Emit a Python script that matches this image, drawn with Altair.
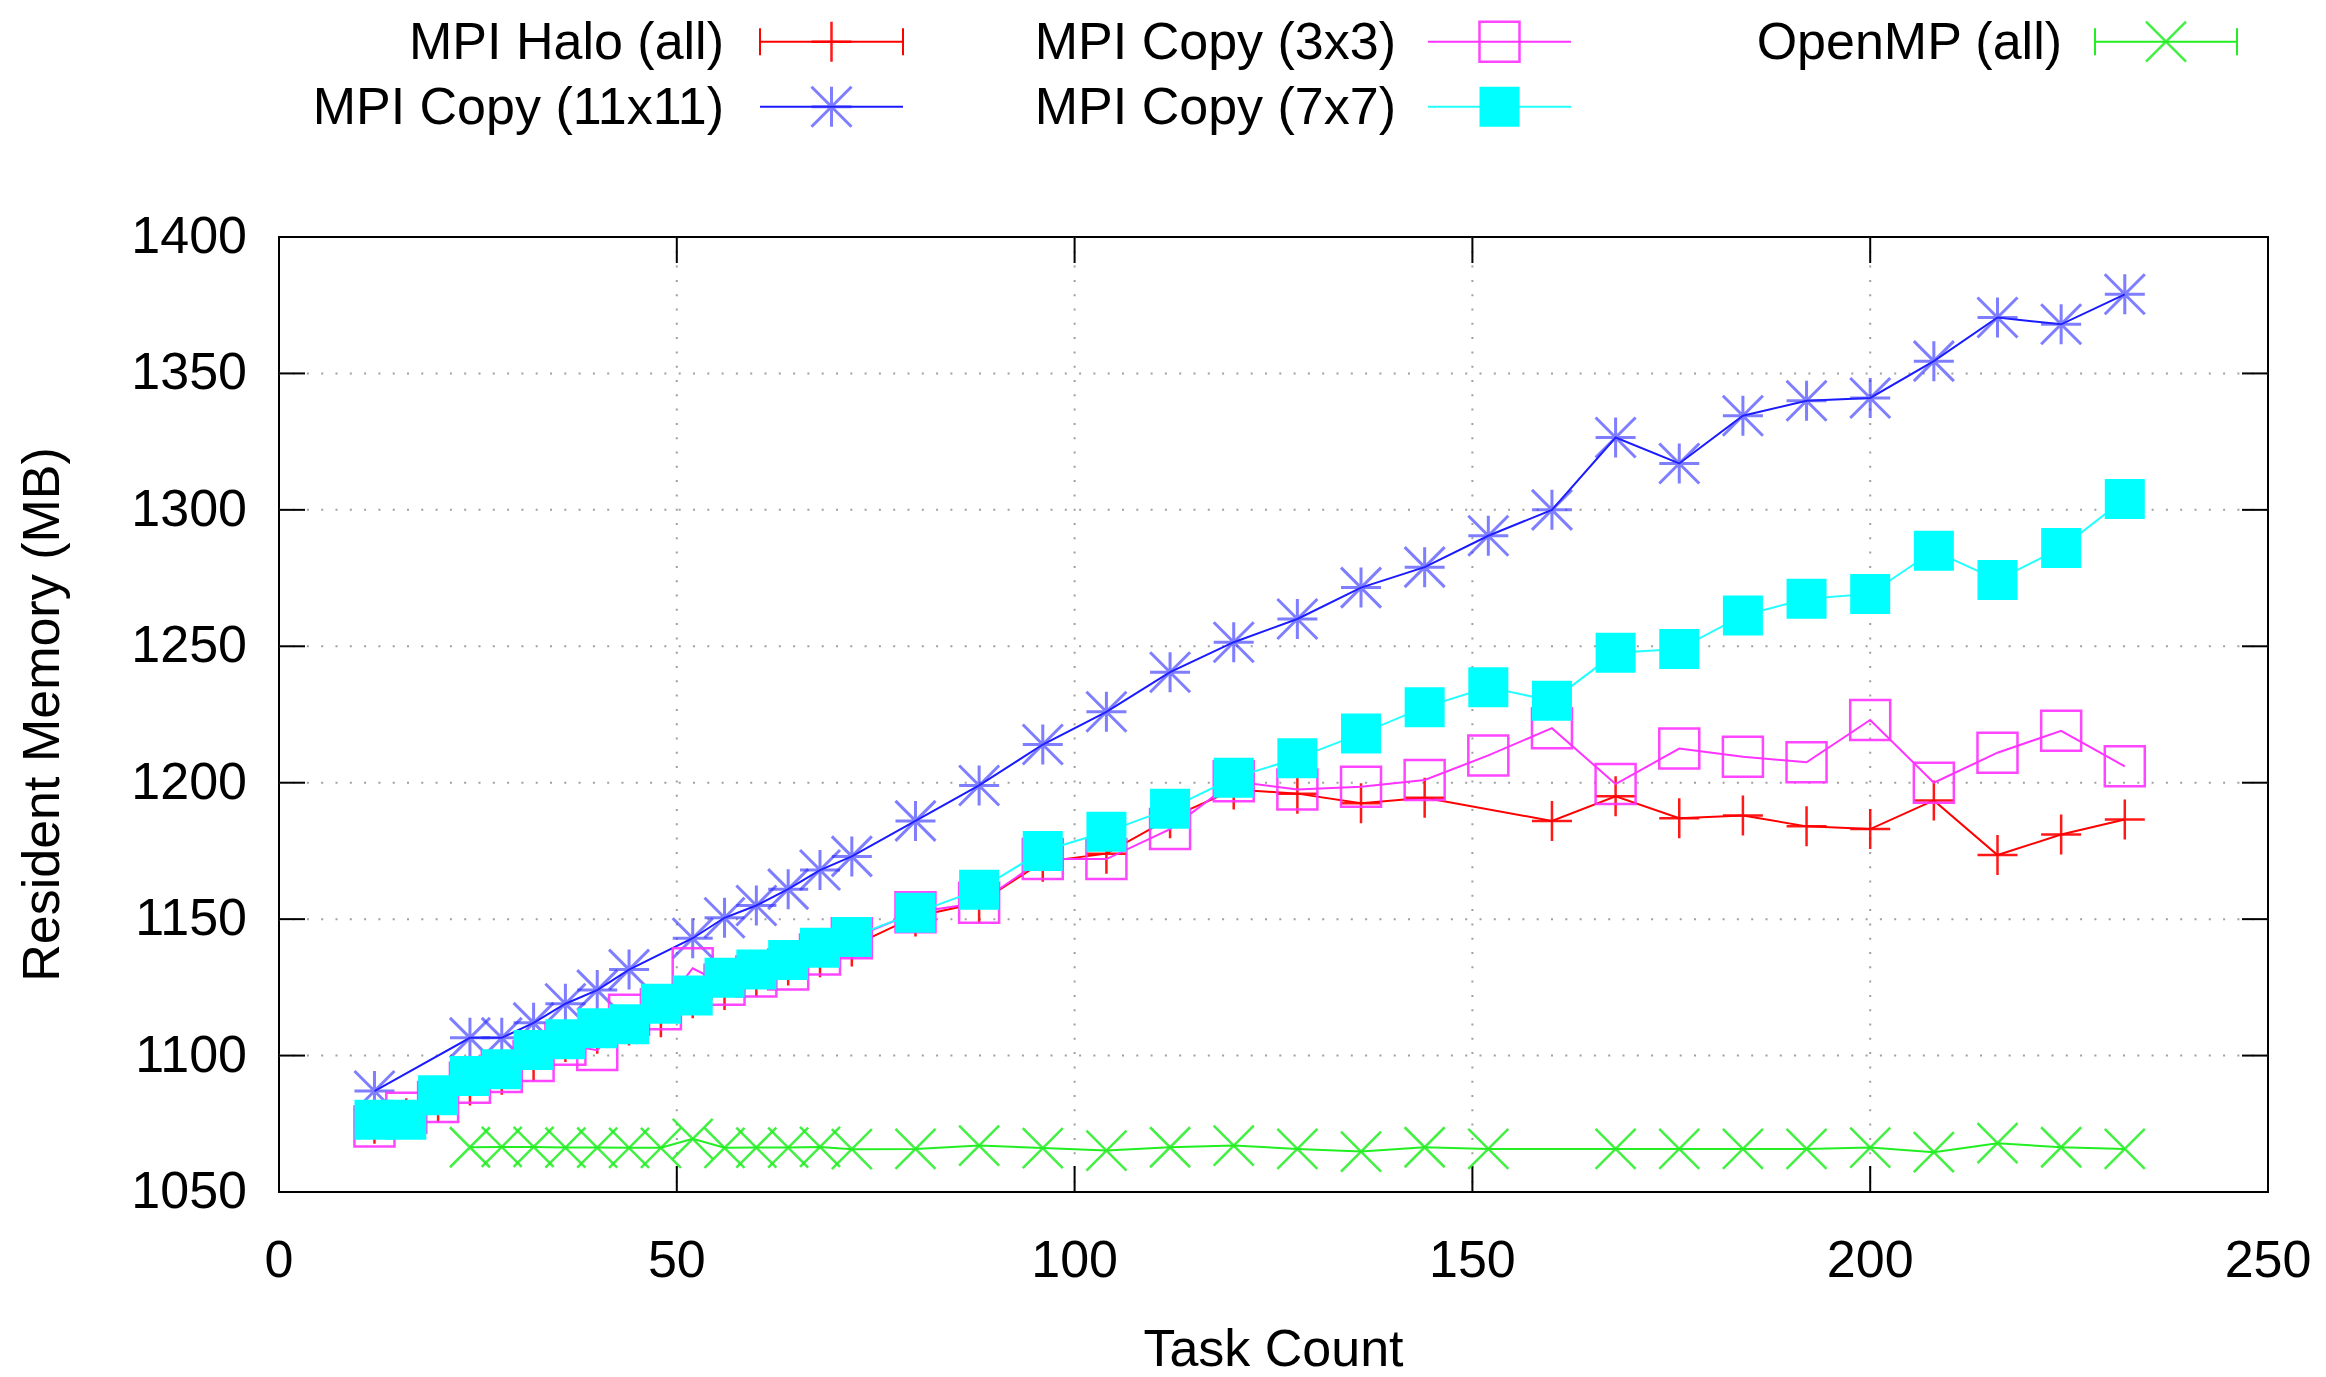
import altair as alt
import pandas as pd

# ---------------- data ----------------
series_names = ["MPI Halo (all)", "MPI Copy (11x11)", "MPI Copy (3x3)", "MPI Copy (7x7)", "OpenMP (all)"]

halo_x = [12, 16, 20, 24, 28, 32, 36, 40, 44, 48, 52, 56, 60, 64, 68, 72, 80, 88, 96, 104, 112,
          120, 128, 136, 144, 160, 168, 176, 184, 192, 200, 208, 216, 224, 232]
halo_y = [1075, 1077, 1083, 1089, 1093, 1098, 1105, 1108, 1111, 1114, 1121, 1124, 1129, 1133, 1136,
          1140, 1151, 1156, 1171, 1174, 1187, 1197.5, 1196, 1192.5, 1194.5, 1186, 1195, 1187, 1188,
          1184, 1183, 1193.5, 1173.5, 1181, 1186.5]

c11_x = [12, 24, 28, 32, 36, 40, 44, 52, 56, 60, 64, 68, 72, 80, 88, 96, 104, 112, 120, 128, 136,
         144, 152, 160, 168, 176, 184, 192, 200, 208, 216, 224, 232]
c11_y = [1087, 1106.5, 1106.5, 1112, 1119, 1124, 1131.5, 1143, 1150.5, 1155, 1161, 1168, 1173,
         1186, 1199, 1214, 1226, 1240.5, 1251.5, 1260, 1271.5, 1279, 1290.5, 1300, 1326.5, 1317,
         1334.5, 1340, 1341, 1354.5, 1370.5, 1368, 1379]

c3_x = [12, 16, 20, 24, 28, 32, 36, 40, 44, 48, 52, 56, 60, 64, 68, 72, 80, 88, 96, 104, 112, 120,
        128, 136, 144, 152, 160, 168, 176, 184, 192, 200, 208, 216, 224, 232]
c3_y = [1074, 1079, 1083, 1090, 1094, 1098, 1104, 1102, 1115, 1117, 1132, 1126, 1129, 1131.5, 1137,
        1143, 1152.5, 1156, 1172, 1172, 1183, 1200.5, 1197.5, 1198.5, 1201, 1210, 1220, 1199.5,
        1212.5, 1209.5, 1207.5, 1223, 1200, 1211, 1219, 1206]

c7_x = [12, 16, 20, 24, 28, 32, 36, 40, 44, 48, 52, 56, 60, 64, 68, 72, 80, 88, 96, 104, 112, 120,
        128, 136, 144, 152, 160, 168, 176, 184, 192, 200, 208, 216, 224, 232]
c7_y = [1076.5, 1076.5, 1085.5, 1092.5, 1095, 1102, 1106, 1110, 1111.5, 1119, 1122, 1128.5, 1131.5,
        1135, 1139.5, 1143.5, 1152.3, 1160.8, 1175, 1182, 1190.5, 1201.8, 1209, 1218, 1227.7, 1235,
        1230, 1247.6, 1249, 1261.3, 1267.4, 1269.2, 1285, 1274.3, 1286, 1304]

omp_x = [24, 28, 32, 36, 40, 44, 48, 52, 56, 60, 64, 68, 72, 80, 88, 96, 104, 112, 120, 128, 136,
         144, 152, 168, 176, 184, 192, 200, 208, 216, 224, 232]
omp_y = [1066.4, 1066.5, 1066.5, 1066.3, 1066.3, 1066.2, 1066.2, 1069.5, 1066.2, 1066.3, 1066.3,
         1066.5, 1065.7, 1065.8, 1067, 1066.1, 1065.2, 1066.4, 1067, 1065.8, 1064.8, 1066.4, 1065.8,
         1065.8, 1065.8, 1065.8, 1065.8, 1066.3, 1064.6, 1067.9, 1066.4, 1065.8]

x_ticks = [0, 50, 100, 150, 200, 250]
y_ticks = [1050, 1100, 1150, 1200, 1250, 1300, 1350, 1400]
x_title = "Task Count"
y_title = "Resident Memory (MB)"

series_x = [halo_x, c11_x, c3_x, c7_x, omp_x]
series_y = [halo_y, c11_y, c3_y, c7_y, omp_y]

rows = []
for name, xs, ys in zip(series_names, series_x, series_y):
    for xv, yv in zip(xs, ys):
        rows.append({"series": name, "tasks": xv, "mem": yv})
df = pd.DataFrame(rows)

# ---------------- styling ----------------
W, H = 1989, 955
FONT = "Liberation Sans"
FS = 52

PLUS = "M-1,0L1,0M0,-1L0,1"
XMARK = "M-1,-1L1,1M-1,1L1,-1"
STAR = "M-1,0L1,0M0,-1L0,1M-1,-1L1,1M-1,1L1,-1"

styles = {
    "MPI Halo (all)":   dict(line="#ff0000", mark="#ff0000", shape=PLUS, filled=False, op=0.9, sw=2.5, ends=True),
    "MPI Copy (11x11)": dict(line="#1a1aff", mark="#2a2aff", shape=STAR, filled=False, op=0.6, sw=3, ends=False),
    "MPI Copy (3x3)":   dict(line="#ff33ff", mark="#ff33ff", shape="square", filled=False, op=0.9, sw=2.5, ends=False),
    "MPI Copy (7x7)":   dict(line="#22ffff", mark="#00ffff", shape="square", filled=True, op=1.0, sw=0, ends=False),
    "OpenMP (all)":     dict(line="#22ee22", mark="#22ee22", shape=XMARK, filled=False, op=0.85, sw=2.5, ends=True),
}

xscale = alt.Scale(domain=[0, 250], nice=False, zero=False)
yscale = alt.Scale(domain=[1050, 1400], nice=False, zero=False)

layers = []

# grid (dotted), interior ticks only
xg = pd.DataFrame({"v": x_ticks[1:-1]})
yg = pd.DataFrame({"v": y_ticks[1:-1]})
grid_style = dict(color="#a0a0a0", strokeWidth=2, strokeDash=[2, 12.3])
layers.append(alt.Chart(xg).mark_rule(**grid_style).encode(x=alt.X("v:Q", scale=xscale, axis=None)))
layers.append(alt.Chart(yg).mark_rule(**grid_style).encode(y=alt.Y("v:Q", scale=yscale, axis=None)))

# inward mirror ticks on all four sides
TL = 26
tick_style = dict(color="black", strokeWidth=2)
layers.append(alt.Chart(yg).mark_rule(**tick_style).encode(
    y=alt.Y("v:Q", scale=yscale, axis=None), x=alt.value(0), x2=alt.value(TL)))
layers.append(alt.Chart(yg).mark_rule(**tick_style).encode(
    y=alt.Y("v:Q", scale=yscale, axis=None), x=alt.value(W - TL), x2=alt.value(W)))
layers.append(alt.Chart(xg).mark_rule(**tick_style).encode(
    x=alt.X("v:Q", scale=xscale, axis=None), y=alt.value(H - TL), y2=alt.value(H)))
layers.append(alt.Chart(xg).mark_rule(**tick_style).encode(
    x=alt.X("v:Q", scale=xscale, axis=None), y=alt.value(0), y2=alt.value(TL)))

# tick labels (placed through the scales)
xl = pd.DataFrame({"v": x_ticks})
yl_df = pd.DataFrame({"v": y_ticks})
layers.append(alt.Chart(xl).mark_text(font=FONT, fontSize=FS, align="center", baseline="alphabetic",
                                      color="black").encode(
    x=alt.X("v:Q", scale=xscale, axis=None), y=alt.value(H + 85), text=alt.Text("v:Q", format="d")))
layers.append(alt.Chart(yl_df).mark_text(font=FONT, fontSize=FS, align="right", baseline="middle",
                                         color="black").encode(
    y=alt.Y("v:Q", scale=yscale, axis=None), x=alt.value(-32), text=alt.Text("v:Q", format="d")))

# axis titles
titles_df = pd.DataFrame({"t": [x_title, y_title]})
layers.append(alt.Chart(titles_df).transform_filter(alt.datum.t == x_title).mark_text(
    font=FONT, fontSize=FS, align="center", baseline="alphabetic", color="black").encode(
    x=alt.value(W / 2), y=alt.value(H + 174), text="t:N"))
layers.append(alt.Chart(titles_df).transform_filter(alt.datum.t == y_title).mark_text(
    font=FONT, fontSize=FS, align="center", baseline="alphabetic", angle=270, color="black").encode(
    x=alt.value(-220), y=alt.value(H / 2), text="t:N"))

# series
for name in series_names:
    s = styles[name]
    base = alt.Chart(df).transform_filter(alt.datum.series == name)
    enc = dict(x=alt.X("tasks:Q", scale=xscale, axis=None), y=alt.Y("mem:Q", scale=yscale, axis=None))
    layers.append(base.mark_line(color=s["line"], strokeWidth=2).encode(**enc))
    if s["filled"]:
        pt = base.mark_point(shape=s["shape"], size=1600, filled=True, color=s["mark"], opacity=s["op"])
    else:
        pt = base.mark_point(shape=s["shape"], size=1600, filled=False, color=s["mark"],
                             opacity=s["op"], strokeWidth=s["sw"])
    layers.append(pt.encode(**enc))

# manual gnuplot-style key above the plot (label left of sample)
legend_df = pd.DataFrame({"series": series_names})
col_text_right = [445, 1117, 1783]
col_line = [(481, 624), (1149, 1292), (1816, 1958)]
row_line_y = [-195.3, -130.3]
row_text_base = [-177.7, -112.7]
key_pos = {
    "MPI Halo (all)": (0, 0),
    "MPI Copy (11x11)": (0, 1),
    "MPI Copy (3x3)": (1, 0),
    "MPI Copy (7x7)": (1, 1),
    "OpenMP (all)": (2, 0),
}
for name in series_names:
    s = styles[name]
    c, r = key_pos[name]
    one = alt.Chart(legend_df).transform_filter(alt.datum.series == name)
    layers.append(one.mark_text(font=FONT, fontSize=FS, align="right", baseline="alphabetic",
                                color="black").encode(
        x=alt.value(col_text_right[c]), y=alt.value(row_text_base[r]), text="series:N"))
    x0, x1 = col_line[c]
    yl = row_line_y[r]
    layers.append(one.mark_rule(color=s["line"], strokeWidth=2).encode(
        x=alt.value(x0), x2=alt.value(x1), y=alt.value(yl)))
    if s["ends"]:
        for xe in (x0, x1):
            layers.append(one.mark_rule(color=s["line"], strokeWidth=2).encode(
                x=alt.value(xe), y=alt.value(yl - 13.5), y2=alt.value(yl + 13.5)))
    mx = (x0 + x1) / 2
    if s["filled"]:
        lp = one.mark_point(shape=s["shape"], size=1600, filled=True, color=s["mark"], opacity=s["op"])
    else:
        lp = one.mark_point(shape=s["shape"], size=1600, filled=False, color=s["mark"],
                            opacity=s["op"], strokeWidth=s["sw"])
    layers.append(lp.encode(x=alt.value(mx), y=alt.value(yl)))

chart = alt.layer(*layers).properties(
    width=W, height=H,
    autosize=alt.AutoSizeParams(type="none"),
    padding={"left": 279, "top": 237, "right": 58, "bottom": 185},
    background="white",
).configure_view(stroke="black", strokeWidth=2)

chart.save("out.html", embed_options={"renderer": "svg", "actions": False})
